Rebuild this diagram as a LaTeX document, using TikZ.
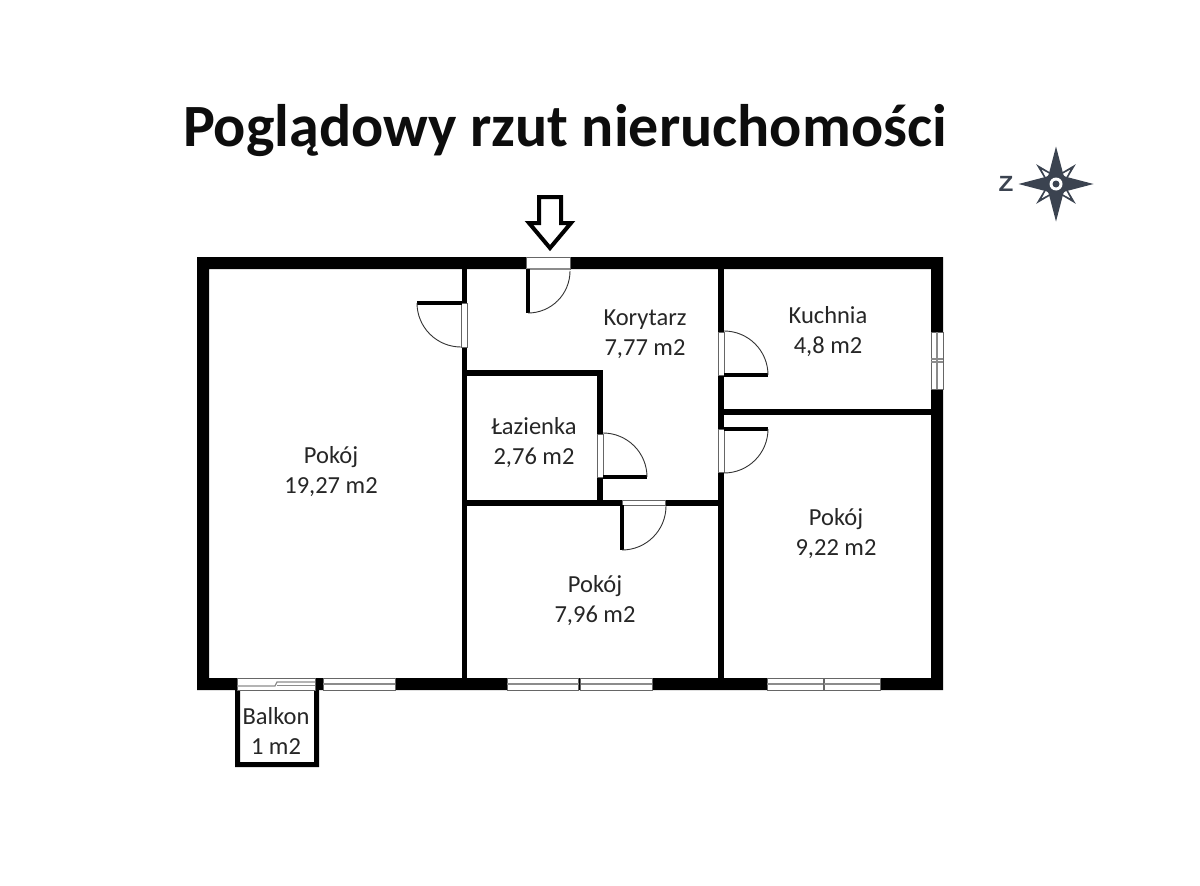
\documentclass[tikz,border=0pt]{standalone}
\usepackage{fontspec}
\setmainfont{Carlito}
\newfontfamily\compassfont{Liberation Sans}
\definecolor{compassblue}{HTML}{3B4350}
\tikzset{
    wall/.style={fill=black,draw=none},
    roomlabel/.style={align=center,font=\fontsize{24.5}{30}\selectfont,text=black!85,inner sep=0pt},
    opening/.style={fill=white,draw=black!60,line width=0.9pt},
    leaf/.style={line width=4pt,line cap=butt},
    swing/.style={line width=0.9pt,draw=black!80},
    pane/.style={draw=black!45,line width=1.2pt},
}
% one pane of a window in a horizontal wall: x from, x to
\newcommand{\hwindow}[2]{
    \draw[opening] (#1,678) rectangle (#2,690);
    \draw[pane] (#1,684) -- (#2,684);
}
\begin{document}
\begin{tikzpicture}[x=1pt,y=-1pt,>=latex]
        \useasboundingbox (0,0) rectangle (1200,886);

        % draw the title
        \node[font=\fontsize{60}{66}\selectfont\bfseries,inner sep=0pt,text=black!95] (title) at (565,131) {Poglądowy rzut nieruchomości};

        % draw the outer walls
        \fill[wall,even odd rule] (197,257) rectangle (943,690) (209,269) rectangle (931,678);

        % draw the inner walls
        \foreach \xa/\ya/\xb/\yb in {
            461.5/269/467/678,
            718/269/724/678,
            467/370/603/375.5,
            597/370/603/505,
            467/500/718/505.5,
            724/409/931/415}
            \fill[wall] (\xa,\ya) rectangle (\xb,\yb);

        % draw the balcony
        \fill[wall,even odd rule] (235,690) rectangle (319,767) (240,690) rectangle (314,762);

        % entrance door
        \draw[opening] (526,257) rectangle (570,269);
        \draw[pane] (526,269) -- (570,269);
        \draw[leaf] (528,269) -- (528,313);
        \draw[swing] (528,313) arc[start angle=90,end angle=0,radius=42];

        % doors of the rooms: opening, then leaf, then swing
        \draw[opening] (461.5,303) rectangle (467,347);
        \draw[leaf] (461.5,303) -- (417,303);
        \draw[swing] (417,303) arc[start angle=180,end angle=90,radius=44];

        \draw[opening] (718,332) rectangle (724,375);
        \draw[leaf] (724,375) -- (768,375);
        \draw[swing] (768,375) arc[start angle=0,end angle=-90,radius=44];

        \draw[opening] (718,429) rectangle (724,472);
        \draw[leaf] (724,429) -- (768,429);
        \draw[swing] (768,429) arc[start angle=0,end angle=90,radius=44];

        \draw[opening] (597,434) rectangle (603,477);
        \draw[leaf] (603,477) -- (647,477);
        \draw[swing] (647,477) arc[start angle=0,end angle=-90,radius=44];

        \draw[opening] (622,500) rectangle (665,505.5);
        \draw[leaf] (622,505) -- (622,550);
        \draw[swing] (622,550) arc[start angle=90,end angle=0,radius=44];

        % draw the windows
        \foreach \xa/\xb in {323/395,507/578.5,580.5/652,767/823,824/880} {
            \hwindow{\xa}{\xb}
        }

        % kitchen window in the right wall
        \draw[opening] (931,332) rectangle (943,389);
        \draw[pane] (937,332) -- (937,389);
        \draw[pane] (931,359) -- (943,359) (931,362) -- (943,362);

        % balcony door
        \draw[opening] (237,678) rectangle (315,690);
        \draw[pane] (237,686) -- (275,686) -- (277,682) -- (315,682);
        \draw[pane,line width=0.8pt] (277,685) -- (315,685);

        % draw the entrance arrow
        \draw[line width=4pt,miter limit=4,fill=white] (539,197) -- (561,197) -- (561,223) -- (571,223)
            -- (550,248) -- (529,223) -- (539,223) -- cycle;

        % draw the labels of the rooms
        \node[roomlabel] (salon) at (331,472) {Pokój\\19,27 m2};
        \node[roomlabel] (korytarz) at (645,334) {Korytarz\\7,77 m2};
        \node[roomlabel] (kuchnia) at (828,332) {Kuchnia\\4,8 m2};
        \node[roomlabel] (lazienka) at (534,443) {Łazienka\\2,76 m2};
        \node[roomlabel] (pokojb) at (836,534) {Pokój\\9,22 m2};
        \node[roomlabel] (pokojc) at (595,601) {Pokój\\7,96 m2};
        \node[roomlabel] (balkon) at (276,731) {Balkon\\1 m2};

        % draw the compass
        \begin{scope}[shift={(1056,184)}]
            \foreach \x in {45,135,225,315} {
                \fill[compassblue] (\x:28) -- (\x+30:10) -- (\x-30:10) -- cycle;
                \fill[white] (\x:20) -- (\x+12:12) -- (\x-12:12) -- cycle;
            }
            \foreach \x in {0,90,180,270}
                \fill[compassblue] (\x:37.5) -- (\x+45:11) -- (\x+90:8) -- (\x-90:8) -- (\x-45:11) -- cycle;
            \fill[white] (0,0) circle(6.5pt);
            \fill[compassblue] (0,0) circle(3.5pt);
        \end{scope}
        \node[font=\fontsize{22}{24}\selectfont\compassfont\bfseries,text=compassblue,inner sep=0pt,xscale=1.1] (north) at (1006,184) {Z};
    \end{tikzpicture}
\end{document}
